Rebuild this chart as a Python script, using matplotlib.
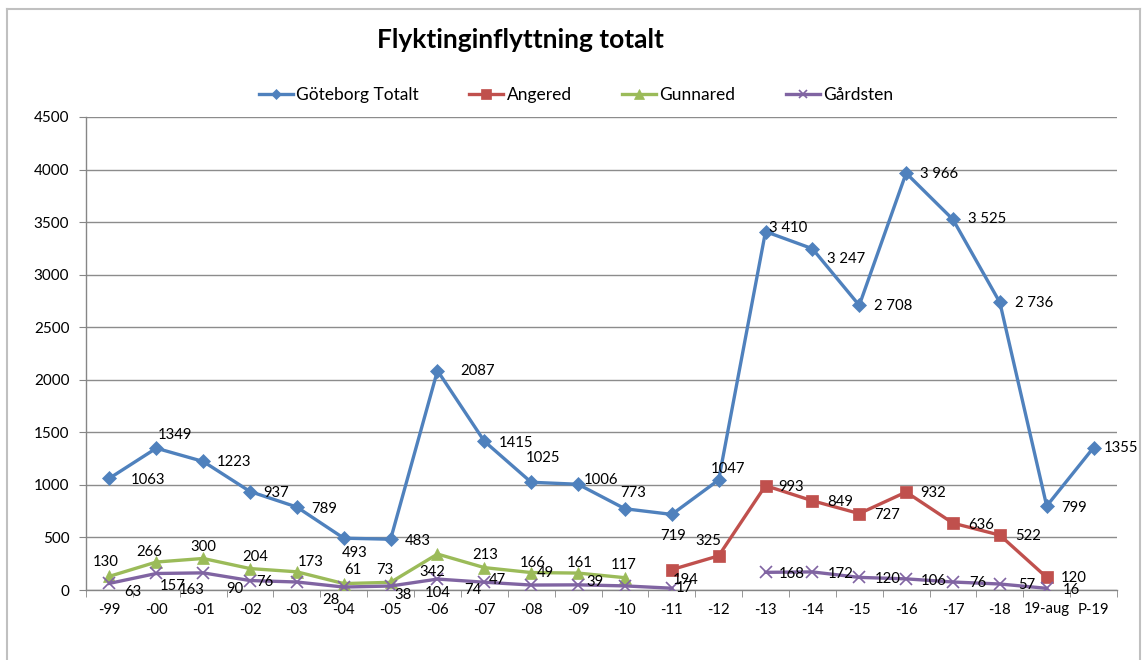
import matplotlib.pyplot as plt
import numpy as np
from matplotlib.lines import Line2D

plt.rcParams['font.family'] = ['Lato', 'DejaVu Sans']

# Yearly refugee in-migration counts
categories = ['-99', '-00', '-01', '-02', '-03', '-04', '-05', '-06', '-07', '-08', '-09',
              '-10', '-11', '-12', '-13', '-14', '-15', '-16', '-17', '-18', '19-aug', 'P-19']
goteborg = [1063, 1349, 1223, 937, 789, 493, 483, 2087, 1415, 1025, 1006,
            773, 719, 1047, 3410, 3247, 2708, 3966, 3525, 2736, 799, 1355]
angered = [None] * 12 + [194, 325, 993, 849, 727, 932, 636, 522, 120, None]
gunnared = [130, 266, 300, 204, 173, 61, 73, 342, 213, 166, 161, 117] + [None] * 10
gardsten = [63, 157, 163, 90, 76, 28, 38, 104, 74, 47, 49, 39, 17,
            None, 168, 172, 120, 106, 76, 57, 16, None]
series_names = ['Göteborg Totalt', 'Angered', 'Gunnared', 'Gårdsten']

# years printed with a digit-group space
grouped = {'-13', '-14', '-15', '-16', '-17', '-18'}

# label offsets from each point, in pixels (right, down)
off_goteborg = [(39, 2), (19, -13), (31, 1), (26, 1), (27, 2), (11, 15), (27, 2), (40, 0),
                (32, 2), (12, -24), (23, -4), (8, -16), (1, 22), (9, -11), (23, -4),
                (34, 10), (34, 1), (33, 1), (34, 0), (34, 1), (27, 2), (27, 0)]
off_angered = [(14, 10), (-10, -15), (26, 1), (28, 1), (28, 1), (27, 1), (28, 2), (28, 1), (27, 1)]
off_gunnared = [(-4, -14), (-7, -10), (0, -11), (5, -12), (14, -10), (9, -14), (-6, -12),
                (-5, 18), (1, -13), (1, -10), (2, -10), (-1, -13)]
off_gardsten = [(23, 9), (16, 13), (-11, 17), (-15, 8), (-32, 0), (-13, 13), (12, 9), (0, 14),
                (-11, 8), (-34, -5), (-33, -12), (-30, -4), (13, 0),
                (26, 2), (28, 2), (28, 2), (28, 2), (25, 1), (27, 1), (25, 2)]

colors = ['#4F81BD', '#C0504D', '#9BBB59', '#8064A2']
markers = [('D', 7), ('s', 8.5), ('^', 8.5), ('x', 8)]

W, H = 1147, 660
fig = plt.figure(figsize=(W / 100, H / 100), dpi=100)
ax = fig.add_axes([86 / W, 1 - 590 / H, (1117 - 86) / W, (590 - 117) / H])

x = np.arange(len(categories))
all_series = [goteborg, angered, gunnared, gardsten]
all_offsets = [off_goteborg, off_angered, off_gunnared, off_gardsten]

for vals, color, (mk, ms), name in zip(all_series, colors, markers, series_names):
    y = np.array([np.nan if v is None else v for v in vals], dtype=float)
    ax.plot(x, y, color=color, lw=2.4, marker=mk, markersize=ms,
            markeredgewidth=1.2 if mk == 'x' else 0.5, markeredgecolor=color,
            label=name, zorder=3)

for vals, offs in zip(all_series, all_offsets):
    pts = [(i, v) for i, v in enumerate(vals) if v is not None]
    for (i, v), (dx, dy) in zip(pts, offs):
        txt = f"{v:,}".replace(',', ' ') if (vals is goteborg and categories[i] in grouped) else str(v)
        ax.annotate(txt, (i, v), xytext=(dx * 0.72, -dy * 0.72), textcoords='offset points',
                    ha='center', va='center', fontsize=10.7, color='black', zorder=5)

ax.set_xlim(-0.5, len(categories) - 0.5)
ax.set_ylim(0, 4500)
ax.set_yticks(np.arange(0, 4501, 500))
ax.set_xticks(x)
ax.set_xticklabels(categories)
ax.set_xticks(np.arange(-0.5, len(categories)), minor=True)
ax.tick_params(axis='x', which='major', length=0, pad=9, labelsize=10.7)
ax.tick_params(axis='x', which='minor', length=5, color='#868686', direction='out')
ax.tick_params(axis='y', length=5, color='#868686', direction='out', pad=7, labelsize=11)
ax.yaxis.grid(True, color='#8C8C8C', lw=1)
ax.set_axisbelow(True)
for side in ['top', 'right']:
    ax.spines[side].set_visible(False)
for side in ['left', 'bottom']:
    ax.spines[side].set_color('#868686')
    ax.spines[side].set_linewidth(1)

fig.text(520 / W, 1 - 40 / H, 'Flyktinginflyttning totalt', ha='center', va='center',
         fontsize=19, fontweight='bold')

# legend in one row along the top
handles, labels = ax.get_legend_handles_labels()
proxies = [Line2D([], [], color=h.get_color(), lw=2.4, marker=h.get_marker(),
                  markersize=h.get_markersize() * 0.8, markeredgecolor=h.get_color(),
                  markeredgewidth=h.get_markeredgewidth()) for h in handles]
fig.legend(proxies, labels, loc='center', bbox_to_anchor=(576 / W, 1 - 95 / H), ncol=4,
           frameon=False, fontsize=12.5, handlelength=1.95, handletextpad=0.2,
           columnspacing=2.9, borderpad=0, borderaxespad=0)

# chart border
border = '#C0C0C0'
fig.add_artist(Line2D([7 / W, 7 / W], [0, 1 - 9 / H], color=border, lw=1.5))
fig.add_artist(Line2D([7 / W, 1140 / W], [1 - 9 / H, 1 - 9 / H], color=border, lw=1.5))
fig.add_artist(Line2D([1140 / W, 1140 / W], [0, 1 - 9 / H], color=border, lw=1.5))

fig.savefig('out.png', dpi=100)
